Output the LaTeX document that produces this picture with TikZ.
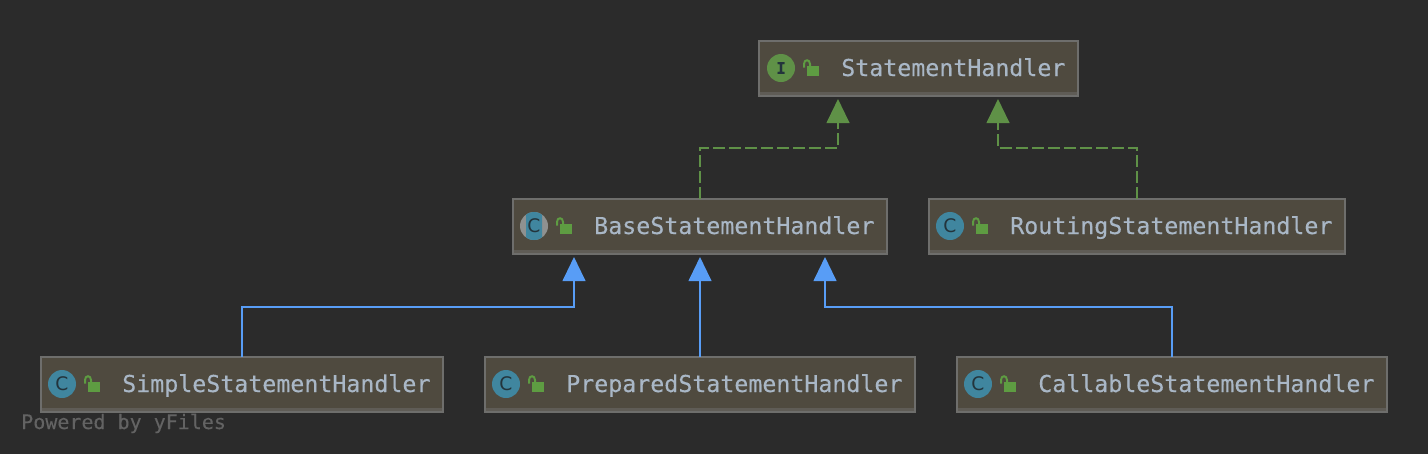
\documentclass[tikz,border=0pt]{standalone}
\usepackage{fontspec}
\setmonofont{DejaVu Sans Mono}[FakeBold=0.3]
\setsansfont{DejaVu Sans}
\usetikzlibrary{arrows.meta}
\definecolor{canvasbg}{HTML}{2B2B2B}
\definecolor{boxfill}{HTML}{4F4A3F}
\definecolor{boxline}{HTML}{6E6E6C}
\definecolor{boxshade}{HTML}{5F5C56}
\definecolor{labeltext}{HTML}{A9B7C6}
\definecolor{poweredtext}{HTML}{636363}
\definecolor{implgreen}{HTML}{5F9147}
\definecolor{lockgreen}{HTML}{5E9C42}
\definecolor{extendblue}{HTML}{589DF6}
\definecolor{classteal}{HTML}{40869F}
\definecolor{abstractgrey}{HTML}{8F9190}
\definecolor{icontext}{HTML}{23343C}
\tikzset{
  classbox/.style={draw=boxline, fill=boxfill, line width=1.5pt, inner sep=0pt, outer sep=0pt,
    minimum height=41.6pt, anchor=north west,
    path picture={\fill[boxshade] ([yshift=3.2pt]path picture bounding box.south west) rectangle (path picture bounding box.south east);}},
  classname/.style={anchor=base west, inner sep=0pt, text=labeltext, font=\fontsize{17.45pt}{20pt}\ttfamily},
  classicon/.style={circle, fill=classteal, minimum size=21pt, inner sep=0pt, text=icontext, font=\fontsize{14pt}{14pt}\sffamily},
  ifaceicon/.style={classicon, fill=implgreen, font=\fontsize{12pt}{12pt}\ttfamily\bfseries},
  extendsline/.style={draw=extendblue, line width=1.6pt, -{Triangle[length=18pt,width=17pt]}},
  implementsline/.style={draw=implgreen, line width=1.6pt, dash pattern=on 9pt off 3pt, -{Triangle[length=18pt,width=17pt]}},
  lockicon/.pic={
    \fill[lockgreen] (-6,-5) rectangle (6,5);
    \draw[lockgreen, line width=1.5pt] (-9,-3.5) -- (-9,-7) .. controls (-9,-12) and (-3,-12) .. (-3,-7) -- (-3,-5);
  }
}
\begin{document}
\begin{tikzpicture}[x=0.75pt, y=-0.75pt]
\fill[canvasbg, use as bounding box] (0,0) rectangle (1428,454);

% boxes
\node[classbox, minimum width=239.25pt] (statement) at (759,41) {};
\node[classbox, minimum width=280.5pt] (base) at (513,199) {};
\node[classbox, minimum width=312pt] (routing) at (929,199) {};
\node[classbox, minimum width=301.5pt] (simple) at (41,357) {};
\node[classbox, minimum width=322.5pt] (prepared) at (485,357) {};
\node[classbox, minimum width=322.5pt] (callable) at (957,357) {};

% icons
\node[ifaceicon] (statementicon) at (781,68) {I};
\fill[abstractgrey] (534,226) circle[radius=14];
\begin{scope}
\clip (526,210) rectangle (542,242);
\fill[classteal] (534,226) circle[radius=14];
\end{scope}
\node[classicon, fill=none] (baseicon) at (534,226) {C};
\node[classicon] (routingicon) at (950,226) {C};
\node[classicon] (simpleicon) at (62,384) {C};
\node[classicon] (preparedicon) at (506,384) {C};
\node[classicon] (callableicon) at (978,384) {C};

\pic at (813,71) {lockicon};
\pic at (566,229) {lockicon};
\pic at (982,229) {lockicon};
\pic at (94,387) {lockicon};
\pic at (538,387) {lockicon};
\pic at (1010,387) {lockicon};

% names
\node[classname] (statementname) at (841,76) {StatementHandler};
\node[classname] (basename) at (594,234) {BaseStatementHandler};
\node[classname] (routingname) at (1010,234) {RoutingStatementHandler};
\node[classname] (simplename) at (122,392) {SimpleStatementHandler};
\node[classname] (preparedname) at (566,392) {PreparedStatementHandler};
\node[classname] (callablename) at (1038,392) {CallableStatementHandler};

\node[classname, text=poweredtext, font=\fontsize{15pt}{18pt}\ttfamily] (powered) at (21,429) {Powered by yFiles};

% free ends of the connectors
\coordinate (statementleft) at (838,99);
\coordinate (statementright) at (998,99);
\coordinate (baseleft) at (574,257);
\coordinate (basemid) at (prepared.north |- 0,257);
\coordinate (baseright) at (825,257);

\draw[implementsline] (base.north) |- (769,148) -| (statementleft);
\draw[implementsline] (routing.north) |- (1068,148) -| (statementright);
\draw[extendsline] (simple.north) |- (408,307) -| (baseleft);
\draw[extendsline] (prepared.north) -- (basemid);
\draw[extendsline] (callable.north) |- (998,307) -| (baseright);
\end{tikzpicture}
\end{document}
